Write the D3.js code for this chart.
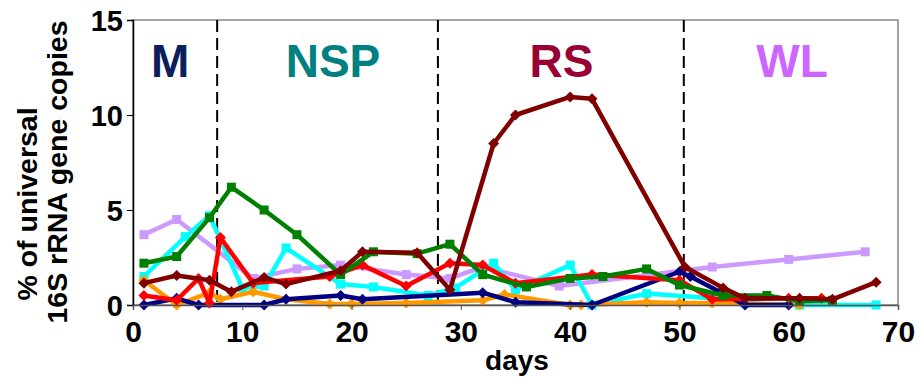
<!DOCTYPE html>
<html>
<head>
<meta charset="utf-8">
<script src="https://cdn.jsdelivr.net/npm/d3@7"></script>
<style>
  body { margin: 0; background: #fff; }
  svg { display: block; font-family: "Liberation Sans", Arial, sans-serif; font-weight: bold; }
</style>
</head>
<body>
<svg width="919" height="377"></svg>
<script>
// values: [day, % of universal 16S rRNA gene copies]
const lavender = [[1,3.7],[4,4.5],[11,1.4],[15,1.9],[19,2.1],[25,1.6],[29,1.4],[32,2.0],[39,1.0],[53,2.0],[60,2.4],[67,2.8]];
const cyan = [[1,1.5],[4.8,3.6],[7,4.7],[10,0.9],[12,1.0],[14,3.0],[19,1.1],[22,0.95],[27,0.5],[29.5,0.9],[33,2.2],[35,0.8],[40,2.1],[42,0],[47,0.6],[53,0.35],[56,0.1],[61,0],[68,0]];
const orange = [[1,1.3],[4,0],[7,0.65],[8,0.3],[11,0.7],[14,0.3],[18,0.05],[20,0.05],[25,0.1],[32,0.25],[34,0.55],[40,0],[41,0],[47,0.15],[50,0.1],[53,0.1],[61,0]];
const navy = [[1,0],[4,0.35],[6,0],[12,0],[14,0.3],[19,0.5],[21,0.3],[32,0.65],[35,0.15],[42,0],[50,1.75],[51,1.5],[56,0],[60,0]];
const red = [[1,0.5],[4,0.25],[6,1.4],[7,0.1],[8,3.55],[11,1.15],[18,1.5],[21,2.1],[25,1.0],[29,2.2],[32,2.1],[35,1.15],[42,1.6],[50,1.3],[53,0.3],[60,0.35],[63,0.35]];
const green = [[1,2.2],[4,2.55],[7,4.6],[9,6.2],[12,5.0],[15,3.7],[19,1.6],[22,2.8],[26,2.7],[29,3.2],[32,1.6],[36,0.95],[40,1.4],[43,1.5],[47,1.9],[50,1.05],[54,0.5],[58,0.5],[61,0.2],[64,0.25]];
const darkred = [[1,1.15],[4,1.55],[7,1.3],[9,0.7],[12,1.45],[14,1.1],[19,1.8],[21,2.8],[26,2.75],[29,0.8],[33,8.5],[35,10.0],[40,10.95],[42,10.85],[50.5,2.0],[54,0.9],[56,0.35],[61,0.35],[64,0.3],[68,1.2]];

const seriesList = [
  { values: lavender, color: "#cc99ff", shape: "square" },
  { values: cyan, color: "#00ffff", shape: "square" },
  { values: orange, color: "#ff9900", shape: "diamond" },
  { values: navy, color: "#000080", shape: "diamond" },
  { values: red, color: "#ff0000", shape: "diamond" },
  { values: green, color: "#008000", shape: "square" },
  { values: darkred, color: "#800000", shape: "diamond" }
];

const phaseBounds = [7.7, 27.9, 50.4];
const phaseLabels = ["M", "NSP", "RS", "WL"];
const phaseCenters = [3.4, 18.3, 39.2, 60.3];
const phaseColors = ["#0a1f5c", "#008080", "#990033", "#cc66ff"];

const xTicks = [0, 10, 20, 30, 40, 50, 60, 70];
const yTicks = [0, 5, 10, 15];

const svg = d3.select("svg");
const x = d3.scaleLinear().domain([0, 70]).range([133, 898]);
const y = d3.scaleLinear().domain([0, 15]).range([305, 20]);

// frame
svg.append("rect")
  .attr("x", x(0)).attr("y", y(15))
  .attr("width", x(70) - x(0)).attr("height", y(0) - y(15))
  .attr("fill", "none").attr("stroke", "#888").attr("stroke-width", 1.5);

// phase separators
svg.selectAll(".phase")
  .data(phaseBounds)
  .enter().append("line")
  .attr("x1", d => x(d)).attr("x2", d => x(d))
  .attr("y1", y(15)).attr("y2", y(0))
  .attr("stroke", "#000").attr("stroke-width", 2)
  .attr("stroke-dasharray", "12,6");

svg.selectAll(".phase-label")
  .data(phaseLabels)
  .enter().append("text")
  .attr("x", (d, i) => x(phaseCenters[i]))
  .attr("y", 77)
  .attr("text-anchor", "middle")
  .attr("font-size", 46)
  .attr("fill", (d, i) => phaseColors[i])
  .text(d => d);

// series
const line = d3.line().x(d => x(d[0])).y(d => y(d[1]));
const diamond = "M0,-5.5L5.5,0L0,5.5L-5.5,0Z";
const square = "M-4.5,-4.5H4.5V4.5H-4.5Z";

seriesList.forEach(s => {
  const g = svg.append("g");
  g.append("path")
    .datum(s.values)
    .attr("d", line)
    .attr("fill", "none")
    .attr("stroke", s.color)
    .attr("stroke-width", 4.5)
    .attr("stroke-linejoin", "round");
  g.selectAll("path.mk")
    .data(s.values)
    .enter().append("path")
    .attr("class", "mk")
    .attr("d", s.shape === "square" ? square : diamond)
    .attr("transform", d => `translate(${x(d[0])},${y(d[1])})`)
    .attr("fill", s.color);
});

// axes
const yAxis = svg.append("g")
  .attr("transform", `translate(${x(0)},0)`)
  .call(d3.axisLeft(y).tickValues(yTicks).tickSize(6).tickPadding(4));
yAxis.select(".domain").attr("stroke", "#000").attr("stroke-width", 1.5);
yAxis.selectAll("text").attr("font-size", 29).attr("font-family", "Liberation Sans, Arial").attr("font-weight", "bold").attr("fill", "#000").attr("dy", "0.36em");

const xAxis = svg.append("g")
  .attr("transform", `translate(0,${y(0)})`)
  .call(d3.axisBottom(x).tickValues(xTicks).tickSize(5).tickPadding(10));
xAxis.select(".domain").attr("stroke", "#555").attr("stroke-width", 1.5);
xAxis.selectAll("line").attr("stroke", "#555");
xAxis.selectAll("text").attr("font-size", 30).attr("font-family", "Liberation Sans, Arial").attr("font-weight", "bold").attr("fill", "#000").attr("dy", "0.72em");

svg.append("text")
  .attr("x", 517).attr("y", 370)
  .attr("text-anchor", "middle")
  .attr("font-size", 28)
  .text("days");

svg.append("text")
  .attr("transform", "translate(37,204) rotate(-90)")
  .attr("text-anchor", "middle")
  .attr("font-size", 28.5)
  .text("% of universal");
svg.append("text")
  .attr("transform", "translate(67,172) rotate(-90)")
  .attr("text-anchor", "middle")
  .attr("font-size", 28.5)
  .text("16S rRNA gene copies");
</script>
</body>
</html>
